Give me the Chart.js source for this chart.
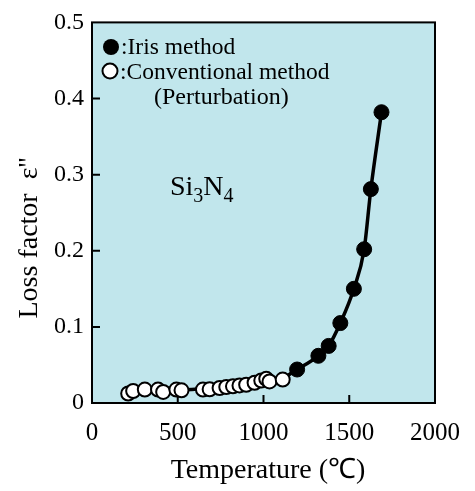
<!DOCTYPE html>
<html>
<head>
<meta charset="utf-8">
<script src="https://cdn.jsdelivr.net/npm/chart.js@4/dist/chart.umd.min.js"></script>
<style>
  html, body { margin: 0; padding: 0; background: #ffffff; }
  #wrap { width: 475px; height: 491px; }
</style>
</head>
<body>
<div id="wrap"><canvas id="c" width="475" height="491"></canvas></div>
<script>
// Temperature (°C) and loss factor ε'' of Si3N4
const irisTemp = [1196, 1320, 1380, 1448, 1527, 1587, 1626, 1688];
const irisLoss = [0.044, 0.062, 0.075, 0.105, 0.150, 0.202, 0.281, 0.382];

const convTemp = [211, 240, 308, 385, 415, 492, 522, 647, 686, 744, 783, 822, 860, 899, 948, 987, 1016, 1035, 1112];
const convLoss = [0.0125, 0.0158, 0.0176, 0.0176, 0.0145, 0.0176, 0.0167, 0.0176, 0.018, 0.0197, 0.021, 0.0219, 0.0231, 0.024, 0.0266, 0.0296, 0.0317, 0.0283, 0.0308];

// Trend curve drawn through both measurement sets
const curveTemp = [211, 400, 600, 800, 1000, 1112, 1196, 1320, 1380, 1448, 1527, 1587, 1626, 1688];
const curveLoss = [0.013, 0.016, 0.018, 0.021, 0.028, 0.033, 0.044, 0.062, 0.075, 0.105, 0.150, 0.202, 0.281, 0.382];

const xTicks = [0, 500, 1000, 1500, 2000];
const yTicks = [0, 0.1, 0.2, 0.3, 0.4, 0.5];

const SERIF = '"Liberation Serif", "Times New Roman", serif';
const PLOT_BG = '#c1e6ec';

const pairs = (xs, ys) => xs.map((x, i) => ({ x: x, y: ys[i] }));

// Plot background, frame and inward tick marks
const framePlugin = {
  id: 'frame',
  beforeDatasetsDraw(chart) {
    const { ctx, chartArea: a, scales } = chart;
    ctx.save();
    ctx.fillStyle = PLOT_BG;
    ctx.fillRect(a.left, a.top, a.right - a.left, a.bottom - a.top);
    ctx.strokeStyle = '#000';
    ctx.lineWidth = 2;
    ctx.beginPath();
    xTicks.slice(1, -1).forEach(v => {
      const px = scales.x.getPixelForValue(v);
      ctx.moveTo(px, a.bottom);
      ctx.lineTo(px, a.bottom - 8);
    });
    yTicks.slice(1, -1).forEach(v => {
      const py = scales.y.getPixelForValue(v);
      ctx.moveTo(a.left, py);
      ctx.lineTo(a.left + 8, py);
    });
    ctx.stroke();
    ctx.strokeRect(a.left, a.top, a.right - a.left, a.bottom - a.top);
    ctx.restore();
  }
};

// Axis titles, key and compound label
const textPlugin = {
  id: 'texts',
  afterDraw(chart) {
    const { ctx, chartArea: a } = chart;
    ctx.save();
    ctx.fillStyle = '#000';
    ctx.textBaseline = 'alphabetic';

    // x title
    ctx.font = '28px ' + SERIF;
    ctx.textAlign = 'center';
    ctx.fillText('Temperature (\u2103)', 268, 478);

    // y title
    ctx.save();
    ctx.translate(37, 238);
    ctx.rotate(-Math.PI / 2);
    ctx.fillText('Loss factor  \u03b5\'\'', 0, 0);
    ctx.restore();

    // key
    ctx.textAlign = 'left';
    ctx.lineWidth = 2;
    ctx.beginPath();
    ctx.arc(111, 47, 8, 0, Math.PI * 2);
    ctx.fillStyle = '#000';
    ctx.fill();
    ctx.beginPath();
    ctx.arc(110, 71, 7.5, 0, Math.PI * 2);
    ctx.fillStyle = '#fff';
    ctx.fill();
    ctx.strokeStyle = '#000';
    ctx.stroke();
    ctx.fillStyle = '#000';
    ctx.font = '23.5px ' + SERIF;
    ctx.fillText(':Iris method', 121, 54);
    ctx.fillText(':Conventional method', 120, 79);
    ctx.font = '24px ' + SERIF;
    ctx.fillText('(Perturbation)', 154, 104);

    // Si3N4
    let x = 170;
    const big = '28px ' + SERIF, small = '20px ' + SERIF;
    const parts = [['Si', big, 195], ['3', small, 202], ['N', big, 195], ['4', small, 202]];
    parts.forEach(([t, f, y]) => {
      ctx.font = f;
      ctx.fillText(t, x, y);
      x += ctx.measureText(t).width;
    });
    ctx.restore();
  }
};

new Chart(document.getElementById('c'), {
  type: 'scatter',
  data: {
    datasets: [
      {
        label: 'Iris method',
        data: pairs(irisTemp, irisLoss),
        pointStyle: 'circle',
        pointRadius: 7.5,
        pointHoverRadius: 7.5,
        pointBackgroundColor: '#000',
        pointBorderColor: '#000',
        pointBorderWidth: 1,
        showLine: false,
        clip: false,
        order: 1
      },
      {
        label: 'Conventional method (Perturbation)',
        data: pairs(convTemp, convLoss),
        pointStyle: 'circle',
        pointRadius: 7,
        pointHoverRadius: 7,
        pointBackgroundColor: '#fff',
        pointBorderColor: '#000',
        pointBorderWidth: 2,
        showLine: false,
        clip: false,
        order: 2
      },
      {
        label: 'curve',
        data: pairs(curveTemp, curveLoss),
        showLine: true,
        borderColor: '#000',
        borderWidth: 3.5,
        pointRadius: 0,
        pointHoverRadius: 0,
        cubicInterpolationMode: 'monotone',
        fill: false,
        clip: false,
        order: 3
      }
    ]
  },
  options: {
    responsive: false,
    animation: false,
    events: [],
    layout: { padding: { left: 0, top: 14, right: 39, bottom: 0 } },
    plugins: { legend: { display: false }, tooltip: { enabled: false } },
    scales: {
      x: {
        type: 'linear',
        min: 0, max: 2000,
        afterBuildTicks: s => { s.ticks = xTicks.map(v => ({ value: v })); },
        afterFit: s => { s.height = 88; },
        grid: { display: false, drawTicks: false },
        border: { display: false },
        ticks: { color: '#000', font: { family: SERIF, size: 25 }, padding: 15, maxRotation: 0, callback: v => String(v) }
      },
      y: {
        type: 'linear',
        min: 0, max: 0.5,
        afterBuildTicks: s => { s.ticks = yTicks.map(v => ({ value: v })); },
        afterFit: s => { s.width = 92; },
        grid: { display: false, drawTicks: false },
        border: { display: false },
        ticks: { color: '#000', font: { family: SERIF, size: 24 }, padding: 8, callback: v => (v === 0 ? '0' : v.toFixed(1)) }
      }
    }
  },
  plugins: [framePlugin, textPlugin]
});
</script>
</body>
</html>
